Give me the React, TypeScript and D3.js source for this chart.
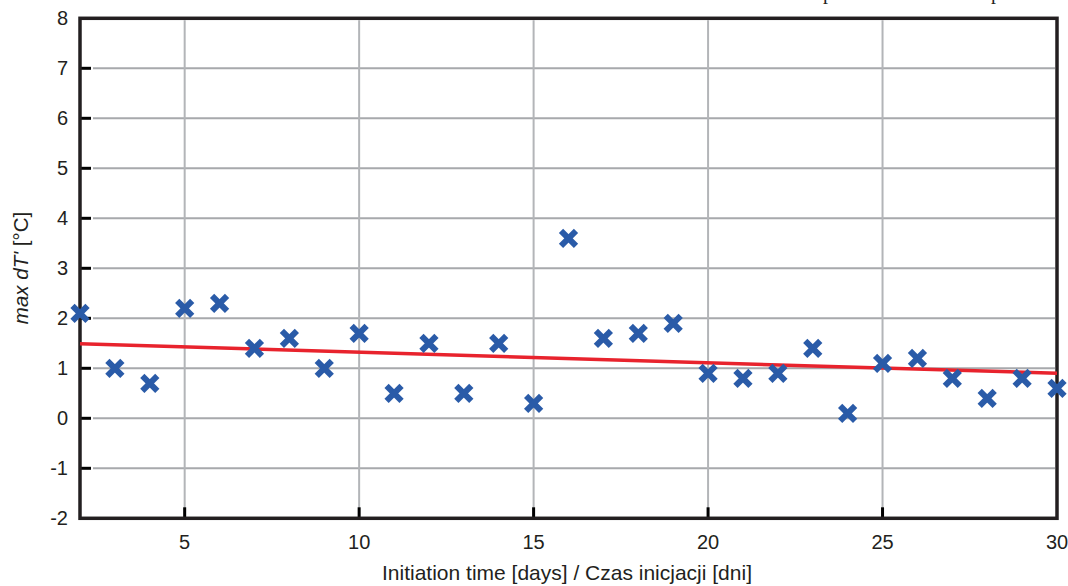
import React from "react";
import * as d3 from "d3";

const days: number[] = [2,3,4,5,6,7,8,9,10,11,12,13,14,15,16,17,18,19,20,21,22,23,24,25,26,27,28,29,30];
const maxDT: number[] = [2.1,1.0,0.7,2.2,2.3,1.4,1.6,1.0,1.7,0.5,1.5,0.5,1.5,0.3,3.6,1.6,1.7,1.9,0.9,0.8,0.9,1.4,0.1,1.1,1.2,0.8,0.4,0.8,0.6];
const trendDays: number[] = [2, 30];
const trendValues: number[] = [1.49, 0.9];
const xTicks: number[] = [5,10,15,20,25,30];
const yTicks: number[] = [-2,-1,0,1,2,3,4,5,6,7,8];
const xTitle = "Initiation time [days] / Czas inicjacji [dni]";
const cutTextX: number[] = [828, 996];

const W = 1068, H = 586;
const L = 80, R = 1057, T = 18.3, B = 518.3;

export default function App() {
  const x = d3.scaleLinear().domain([2, 30]).range([L, R]);
  const y = d3.scaleLinear().domain([-2, 8]).range([B, T]);
  const line = d3.line<number>().x(i => x(trendDays[i])).y(i => y(trendValues[i]));
  const font = "Liberation Sans, Arial, sans-serif";
  const s = 7.5;
  return (
    <svg width={W} height={H} style={{ position: "absolute", left: 0, top: 0, background: "#fff" }}>
      {cutTextX.map((cx, i) => (
        <text key={i} x={cx} y={-1.5} fontFamily="Liberation Serif, Times New Roman, serif" fontSize={20} textAnchor="middle" fill="#231f20">p</text>
      ))}
      {yTicks.filter(v => v > -2 && v < 8).map(v => (
        <line key={"gy" + v} x1={L + 13} x2={R - 2} y1={y(v)} y2={y(v)} stroke="#a7a9ac" strokeWidth={2} />
      ))}
      {xTicks.filter(v => v < 30).map(v => (
        <line key={"gx" + v} x1={x(v)} x2={x(v)} y1={T + 2} y2={B - 2} stroke="#b3b5b8" strokeWidth={2} />
      ))}
      {yTicks.filter(v => v > -2 && v < 8).map(v => (
        <line key={"ty" + v} x1={L} x2={L + 11} y1={y(v)} y2={y(v)} stroke="#000" strokeWidth={3} />
      ))}
      {xTicks.filter(v => v < 30).map(v => (
        <line key={"tx" + v} x1={x(v)} x2={x(v)} y1={B} y2={B - 11} stroke="#000" strokeWidth={3} />
      ))}
      <rect x={L} y={T} width={R - L} height={B - T} fill="none" stroke="#231f20" strokeWidth={3.5} />
      <path d={line([0, 1])!} stroke="#e8232d" strokeWidth={3.5} fill="none" />
      {days.map((d, i) => (
        <g key={"m" + i} transform={`translate(${x(d)},${y(maxDT[i])})`} stroke="#2a5ba8" strokeWidth={6}>
          <line x1={-s} y1={-s} x2={s} y2={s} />
          <line x1={-s} y1={s} x2={s} y2={-s} />
        </g>
      ))}
      {yTicks.map(v => (
        <text key={"ly" + v} x={68} y={y(v) + 7} textAnchor="end" fontFamily={font} fontSize={20} fill="#231f20">{v}</text>
      ))}
      {xTicks.map(v => (
        <text key={"lx" + v} x={x(v)} y={549} textAnchor="middle" fontFamily={font} fontSize={20} fill="#231f20">{v}</text>
      ))}
      <text x={567} y={580} textAnchor="middle" fontFamily={font} fontSize={21} fill="#231f20">{xTitle}</text>
      <text transform="translate(28,268) rotate(-90)" textAnchor="middle" fontFamily={font} fontSize={20.5} fill="#231f20">
        <tspan fontStyle="italic">max dT'</tspan>
        <tspan> [°C]</tspan>
      </text>
    </svg>
  );
}
